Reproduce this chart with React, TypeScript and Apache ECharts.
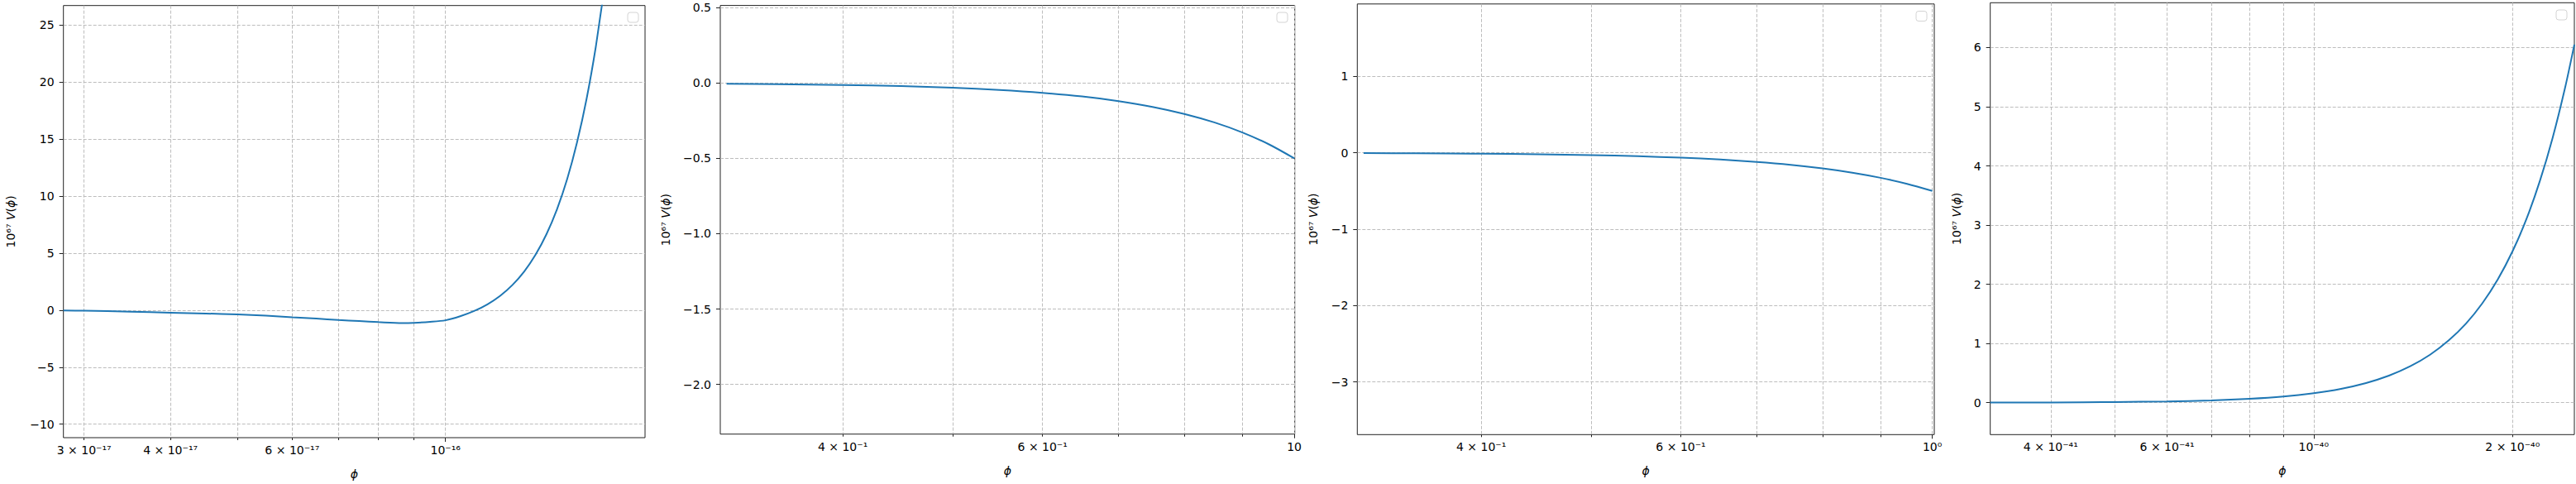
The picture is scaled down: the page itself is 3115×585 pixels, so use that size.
import React, { useEffect, useRef } from "react";
import * as echarts from "echarts";

// ---------- data (phi for panels 1 and 4 stored in units of 1e-17 and 1e-41) ----------
const P1_PHI_E17 = [2.8, 3.0, 3.5, 4.0, 4.5, 5.0, 5.5, 6.0, 6.5, 7.0, 7.5, 8.0, 8.66, 9.0, 9.5, 10.0, 10.5, 11.0, 11.5, 12.0, 12.5, 13.0, 13.5, 14.0, 14.5, 15.0, 15.5, 16.0, 16.5, 17.0];
const P1_V = [-0.03, -0.05, -0.13, -0.22, -0.3, -0.38, -0.49, -0.62, -0.74, -0.86, -0.96, -1.05, -1.13, -1.11, -1.03, -0.89, -0.54, -0.08, 0.51, 1.26, 2.21, 3.39, 4.86, 6.66, 8.85, 11.5, 14.71, 18.52, 23.09, 28.46];

const P2_PHI = [0.316, 0.35, 0.4, 0.45, 0.5, 0.55, 0.6, 0.65, 0.7, 0.75, 0.8, 0.85, 0.9, 0.95, 1.0];
const P2_V = [-0.005, -0.0075, -0.013, -0.02, -0.031, -0.046, -0.065, -0.089, -0.12, -0.158, -0.205, -0.261, -0.328, -0.407, -0.5];

const P3_PHI = [0.315, 0.35, 0.4, 0.45, 0.5, 0.55, 0.6, 0.65, 0.7, 0.75, 0.8, 0.85, 0.9, 0.95, 1.0];
const P3_V = [-0.005, -0.0075, -0.013, -0.02, -0.031, -0.046, -0.065, -0.089, -0.12, -0.158, -0.205, -0.261, -0.328, -0.407, -0.5];

const P4_PHI_E41 = [3.24, 4, 5, 6, 7, 8, 9, 10, 11, 12, 13, 14, 15, 16, 17, 18, 19, 20, 21, 22, 23, 24, 24.8];
const P4_V = [0.002, 0.004, 0.01, 0.021, 0.038, 0.066, 0.105, 0.16, 0.234, 0.332, 0.457, 0.615, 0.81, 1.05, 1.336, 1.68, 2.085, 2.56, 3.11, 3.75, 4.48, 5.31, 6.05];

// ---------- ticks ----------
const P1_X_TICKS = [3, 4, 5, 6, 7, 8, 9, 10];
const P1_X_LABELS = ["3 × 10⁻¹⁷", "4 × 10⁻¹⁷", "", "6 × 10⁻¹⁷", "", "", "", "10⁻¹⁶"];
const P1_X_MAJOR = [10];
const P1_Y_TICKS = [-10, -5, 0, 5, 10, 15, 20, 25];
const P1_Y_LABELS = ["−10", "−5", "0", "5", "10", "15", "20", "25"];

const P2_X_TICKS = [0.4, 0.5, 0.6, 0.7, 0.8, 0.9, 1.0];
const P2_X_LABELS = ["4 × 10⁻¹", "", "6 × 10⁻¹", "", "", "", "10"];
const P2_X_MAJOR = [1.0];
const P2_Y_TICKS = [-2.0, -1.5, -1.0, -0.5, 0.0, 0.5];
const P2_Y_LABELS = ["−2.0", "−1.5", "−1.0", "−0.5", "0.0", "0.5"];

const P3_X_TICKS = [0.4, 0.5, 0.6, 0.7, 0.8, 0.9, 1.0];
const P3_X_LABELS = ["4 × 10⁻¹", "", "6 × 10⁻¹", "", "", "", "10⁰"];
const P3_X_MAJOR = [1.0];
const P3_Y_TICKS = [-3, -2, -1, 0, 1];
const P3_Y_LABELS = ["−3", "−2", "−1", "0", "1"];

const P4_X_TICKS = [4, 5, 6, 7, 8, 9, 10, 20];
const P4_X_LABELS = ["4 × 10⁻⁴¹", "", "6 × 10⁻⁴¹", "", "", "", "10⁻⁴⁰", "2 × 10⁻⁴⁰"];
const P4_X_MAJOR = [10];
const P4_Y_TICKS = [0, 1, 2, 3, 4, 5, 6];
const P4_Y_LABELS = ["0", "1", "2", "3", "4", "5", "6"];

const FONT = "DejaVu Sans";
const LINE_COLOR = "#1f77b4";
const GRID_COLOR = "#bdbdbd";

type Panel = {
  phi: number[];
  v: number[];
  xTicks: number[];
  xLabels: string[];
  xMajor: number[];
  yTicks: number[];
  yLabels: string[];
  xMin: number;
  xMax: number;
  yMin: number;
  yMax: number;
  left: number;
  top: number;
  width: number;
  height: number;
  yNameGap: number;
  legend: [number, number];
};

const PANELS: Panel[] = [
  {
    phi: P1_PHI_E17, v: P1_V, xTicks: P1_X_TICKS, xLabels: P1_X_LABELS, xMajor: P1_X_MAJOR,
    yTicks: P1_Y_TICKS, yLabels: P1_Y_LABELS,
    xMin: 2.8, xMax: 19.44, yMin: -11.18, yMax: 26.7,
    left: 76.7, top: 6.7, width: 703.3, height: 524.3, yNameGap: 57, legend: [759, 15],
  },
  {
    phi: P2_PHI, v: P2_V, xTicks: P2_X_TICKS, xLabels: P2_X_LABELS, xMajor: P2_X_MAJOR,
    yTicks: P2_Y_TICKS, yLabels: P2_Y_LABELS,
    xMin: 0.312, xMax: 1.001, yMin: -2.33, yMax: 0.515,
    left: 871, top: 6.6, width: 694.7, height: 518.1, yNameGap: 59, legend: [1544, 15],
  },
  {
    phi: P3_PHI, v: P3_V, xTicks: P3_X_TICKS, xLabels: P3_X_LABELS, xMajor: P3_X_MAJOR,
    yTicks: P3_Y_TICKS, yLabels: P3_Y_LABELS,
    xMin: 0.311, xMax: 1.004, yMin: -3.69, yMax: 1.947,
    left: 1641.3, top: 4.8, width: 697.7, height: 520.5, yNameGap: 46, legend: [2317, 13.5],
  },
  {
    phi: P4_PHI_E41, v: P4_V, xTicks: P4_X_TICKS, xLabels: P4_X_LABELS, xMajor: P4_X_MAJOR,
    yTicks: P4_Y_TICKS, yLabels: P4_Y_LABELS,
    xMin: 3.24, xMax: 24.8, yMin: -0.54, yMax: 6.757,
    left: 2406.7, top: 3.3, width: 706.3, height: 522, yNameGap: 34, legend: [3091, 12],
  },
];

function lookup(ticks: number[], labels: string[], v: number): string {
  for (let i = 0; i < ticks.length; i++) {
    const t = ticks[i];
    if (Math.abs(t - v) <= 1e-6 * Math.max(1, Math.abs(t))) return labels[i];
  }
  return "";
}

function buildOption() {
  const grid: any[] = [];
  const xAxis: any[] = [];
  const yAxis: any[] = [];
  const series: any[] = [];
  const graphic: any[] = [];

  PANELS.forEach((p, i) => {
    grid.push({
      left: p.left, top: p.top, width: p.width, height: p.height,
      show: true, borderColor: "#222", borderWidth: 1, backgroundColor: "transparent",
      containLabel: false,
    });
    const labeled = p.xTicks.filter((_, k) => p.xLabels[k] !== "");
    xAxis.push({
      type: "log", logBase: 10, gridIndex: i, min: p.xMin, max: p.xMax, position: "bottom",
      axisLine: { show: false, onZero: false },
      axisTick: { show: true, customValues: p.xTicks, length: 3, lineStyle: { color: "#222", width: 1 } },
      axisLabel: {
        show: true, customValues: labeled, margin: 8, fontSize: 14, color: "#000", fontFamily: FONT,
        formatter: (v: number) => lookup(p.xTicks, p.xLabels, v),
      },
      splitLine: { show: true, lineStyle: { color: GRID_COLOR, width: 1, type: [4, 2] } },
      minorTick: { show: false }, minorSplitLine: { show: false },
      name: "ϕ", nameLocation: "middle", nameGap: 37,
      nameTextStyle: { fontSize: 14, color: "#000", fontStyle: "italic", fontFamily: FONT },
    });
    xAxis.push({
      type: "log", logBase: 10, gridIndex: i, min: p.xMin, max: p.xMax, position: "bottom",
      axisLine: { show: false, onZero: false },
      axisTick: { show: true, customValues: p.xMajor, length: 5, lineStyle: { color: "#222", width: 1 } },
      axisLabel: { show: false },
      splitLine: { show: false },
    });
    yAxis.push({
      type: "value", gridIndex: i, min: p.yMin, max: p.yMax,
      axisLine: { show: false, onZero: false },
      axisTick: { show: true, customValues: p.yTicks, length: 5, lineStyle: { color: "#222", width: 1 } },
      axisLabel: {
        show: true, customValues: p.yTicks, margin: 11, fontSize: 14, color: "#000", fontFamily: FONT,
        formatter: (v: number) => lookup(p.yTicks, p.yLabels, v),
      },
      splitLine: { show: true, lineStyle: { color: GRID_COLOR, width: 1, type: [4, 2] } },
      name: "{n|10⁶⁷ }{i|V}{n|(}{i|ϕ}{n|)}",
      nameLocation: "middle", nameRotate: 90, nameGap: p.yNameGap,
      nameTextStyle: {
        fontSize: 14, color: "#000", fontFamily: FONT,
        rich: {
          n: { fontSize: 14, color: "#000", fontFamily: FONT },
          i: { fontSize: 14, color: "#000", fontFamily: FONT, fontStyle: "italic" },
        },
      },
    });
    series.push({
      type: "line", xAxisIndex: 2 * i, yAxisIndex: i,
      data: p.phi.map((x, k) => [x, p.v[k]]),
      showSymbol: false, symbol: "none", smooth: 0.3, clip: true,
      lineStyle: { color: LINE_COLOR, width: 2 },
    });
    graphic.push({
      type: "rect",
      shape: { x: p.legend[0], y: p.legend[1], width: 13, height: 12, r: 3 },
      style: { fill: "#fff", stroke: "#d4d4d4", lineWidth: 1 },
      z: 100,
    });
  });

  return {
    animation: false,
    backgroundColor: "#ffffff",
    textStyle: { fontFamily: FONT },
    grid, xAxis, yAxis, series, graphic,
  };
}

export default function App() {
  const ref = useRef<HTMLDivElement>(null);
  useEffect(() => {
    document.body.style.margin = "0";
    if (!ref.current) return;
    const chart = echarts.init(ref.current, null, { renderer: "svg" });
    chart.setOption(buildOption() as any);
    return () => chart.dispose();
  }, []);
  return (
    <div
      ref={ref}
      style={{ position: "absolute", left: 0, top: 0, width: 3115, height: 585, background: "#fff" }}
    />
  );
}
